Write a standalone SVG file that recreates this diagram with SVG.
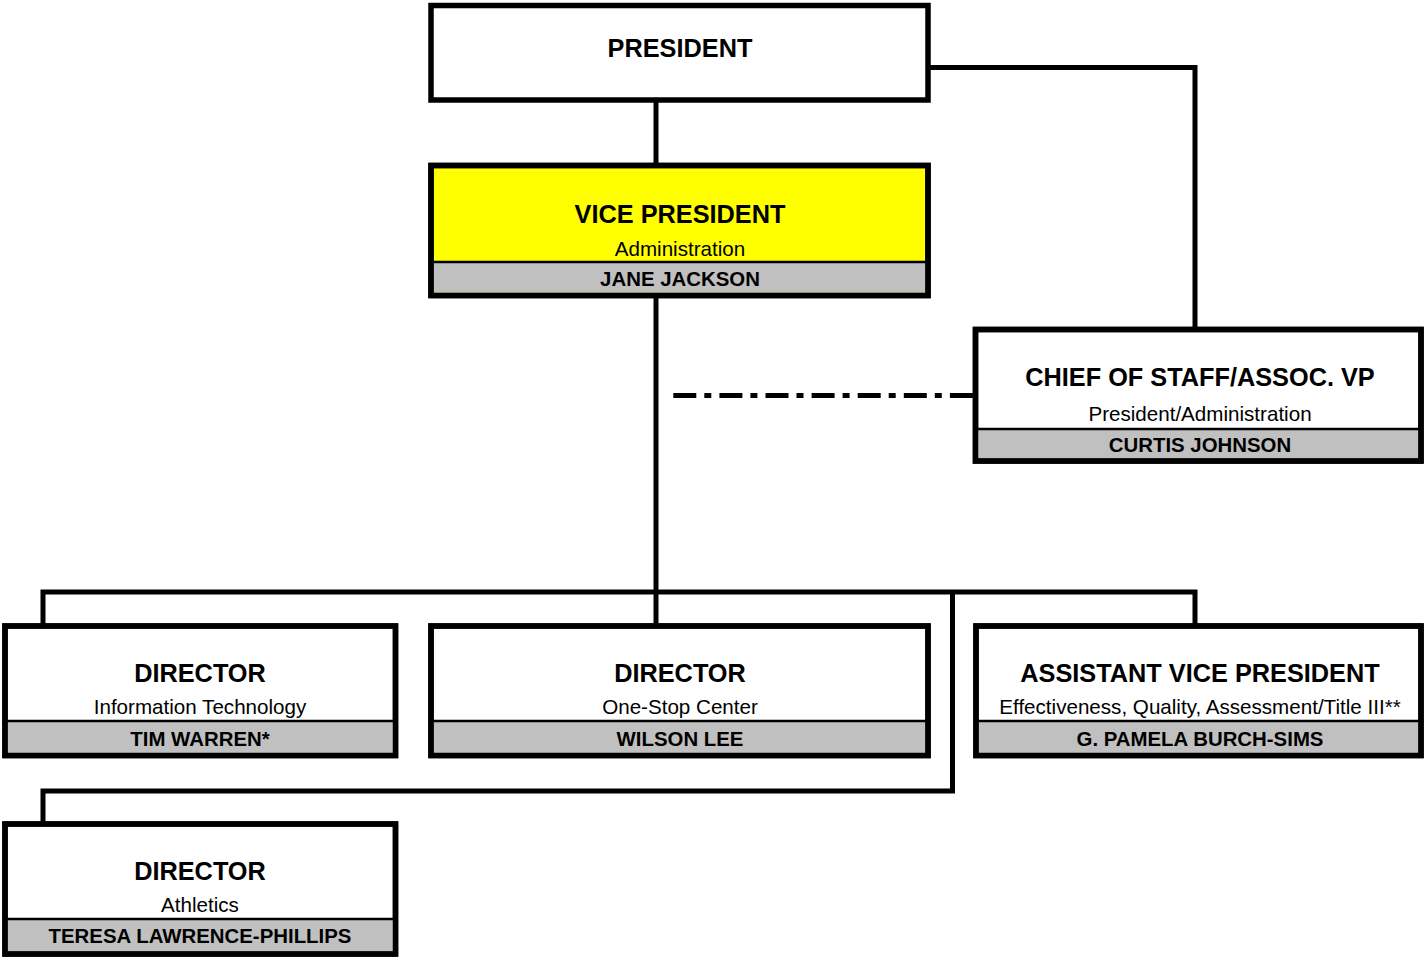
<svg xmlns="http://www.w3.org/2000/svg" width="1424" height="958" viewBox="0 0 1424 958">
<style>
.box{stroke:#000;stroke-width:5.5;}
.w{fill:#fff;}
.y{fill:#ffff00;}
.band{fill:#c0c0c0;}
.div{stroke:#000;stroke-width:2.5;}
.frame{fill:none;stroke:#000;stroke-width:5.5;}
text{font-family:"Liberation Sans",Arial,sans-serif;fill:#000;text-anchor:middle;}
.t{font-size:25.3px;font-weight:bold;}
.s{font-size:20.6px;}
.n{font-size:20.4px;font-weight:bold;}
.c{fill:none;stroke:#000;stroke-width:5;}
.dd{fill:none;stroke:#000;stroke-width:5;stroke-dasharray:23 8 7 8.1;}
</style>
<g id="connectors">
<path class="c" d="M656 100 V165.5"/>
<path class="c" d="M928 67.5 H1195 V329.5"/>
<path class="c" d="M656 295.5 V626"/>
<path class="c" d="M43 626 V592 H1195 V626"/>
<path class="c" d="M952.5 592 V791 H43 V824"/>
<path class="dd" d="M673.3 395.5 H975"/>
</g>
<g id="president">
<rect class="box w" x="431" y="5.5" width="497" height="94.5"/>
<text class="t" x="680" y="57">PRESIDENT</text>
</g>
<g id="vp">
<rect class="box y" x="431" y="165.5" width="497" height="130"/>
<rect class="band" x="433.75" y="262" width="491.5" height="30.75"/>
<line class="div" x1="431" y1="262" x2="928" y2="262"/>
<rect class="frame" x="431" y="165.5" width="497" height="130"/>
<text class="t" x="680" y="223">VICE PRESIDENT</text>
<text class="s" x="680" y="255.5">Administration</text>
<text class="n" x="680" y="286">JANE JACKSON</text>
</g>
<g id="chief-of-staff">
<rect class="box w" x="975.5" y="329.5" width="445.5" height="131.5"/>
<rect class="band" x="978.25" y="429" width="440" height="29.25"/>
<line class="div" x1="975.5" y1="429" x2="1421" y2="429"/>
<rect class="frame" x="975.5" y="329.5" width="445.5" height="131.5"/>
<text class="t" x="1200" y="386">CHIEF OF STAFF/ASSOC. VP</text>
<text class="s" x="1200" y="420.5">President/Administration</text>
<text class="n" x="1200" y="452">CURTIS JOHNSON</text>
</g>
<g id="director-it">
<rect class="box w" x="5" y="626" width="390.5" height="129.5"/>
<rect class="band" x="7.75" y="721" width="385" height="31.75"/>
<line class="div" x1="5" y1="721" x2="395.5" y2="721"/>
<rect class="frame" x="5" y="626" width="390.5" height="129.5"/>
<text class="t" x="200" y="682">DIRECTOR</text>
<text class="s" x="200" y="714">Information Technology</text>
<text class="n" x="200" y="746">TIM WARREN*</text>
</g>
<g id="director-onestop">
<rect class="box w" x="431" y="626" width="497" height="129.5"/>
<rect class="band" x="433.75" y="721" width="491.5" height="31.75"/>
<line class="div" x1="431" y1="721" x2="928" y2="721"/>
<rect class="frame" x="431" y="626" width="497" height="129.5"/>
<text class="t" x="680" y="682">DIRECTOR</text>
<text class="s" x="680" y="714">One-Stop Center</text>
<text class="n" x="680" y="746">WILSON LEE</text>
</g>
<g id="avp">
<rect class="box w" x="976" y="626" width="445" height="129.5"/>
<rect class="band" x="978.75" y="721" width="439.5" height="31.75"/>
<line class="div" x1="976" y1="721" x2="1421" y2="721"/>
<rect class="frame" x="976" y="626" width="445" height="129.5"/>
<text class="t" x="1200" y="682">ASSISTANT VICE PRESIDENT</text>
<text class="s" x="1200" y="714">Effectiveness, Quality, Assessment/Title III**</text>
<text class="n" x="1200" y="746">G. PAMELA BURCH-SIMS</text>
</g>
<g id="director-athletics">
<rect class="box w" x="5" y="824" width="390.5" height="130"/>
<rect class="band" x="7.75" y="919" width="385" height="32.25"/>
<line class="div" x1="5" y1="919" x2="395.5" y2="919"/>
<rect class="frame" x="5" y="824" width="390.5" height="130"/>
<text class="t" x="200" y="880">DIRECTOR</text>
<text class="s" x="200" y="911.5">Athletics</text>
<text class="n" x="200" y="943">TERESA LAWRENCE-PHILLIPS</text>
</g>
</svg>
